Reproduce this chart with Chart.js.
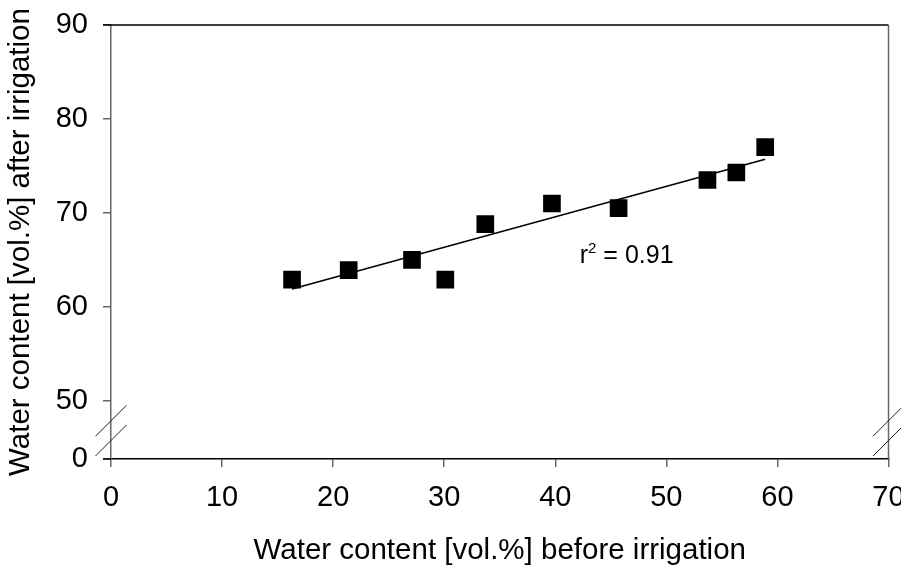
<!DOCTYPE html>
<html lang="en">
<head>
    <meta charset="UTF-8">
    <title>Water content before / after irrigation</title>
    <script src="https://cdn.jsdelivr.net/npm/chart.js"></script>
    <style>
        html, body { margin: 0; padding: 0; background: #fff; }
    </style>
</head>
<body>
    <canvas id="waterChart" width="901" height="566"></canvas>
    <script>
        // measured points (vol.%)
        const beforeIrrigation = [16.3, 21.4, 27.1, 30.1, 33.7, 39.7, 45.7, 53.7, 56.3, 58.9];
        const afterIrrigation  = [62.9, 63.9, 65.0, 62.9, 68.8, 71.0, 70.5, 73.5, 74.3, 77.0];

        // regression line end points as drawn
        const fitX = [16.3, 58.9];
        const fitY = [61.9, 75.7];

        const xTicks = [0, 10, 20, 30, 40, 50, 60, 70];
        // y axis is broken between 0 and 50; 0 is drawn at 43.8 on the internal scale
        const BREAK_ZERO = 43.8;
        const yTickPos    = [BREAK_ZERO, 50, 60, 70, 80, 90];
        const yTickLabels = ['0', '50', '60', '70', '80', '90'];

        const rSquared = '0.91';
        const rLabelAt = { x: 42.2, y: 64.7 };

        const FONT = "'Liberation Sans', Arial, sans-serif";

        const frame = {
            id: 'frame',
            afterDraw(chart) {
                const { ctx, chartArea: a, scales: { x, y } } = chart;
                ctx.save();
                // top and right box lines, bottom line extended past the y axis
                ctx.lineWidth = 1.5;
                ctx.strokeStyle = '#000';
                ctx.beginPath();
                ctx.moveTo(a.left - 8, a.top);
                ctx.lineTo(a.right, a.top);
                ctx.moveTo(a.left - 8, a.bottom);
                ctx.lineTo(a.left, a.bottom);
                ctx.stroke();
                ctx.strokeStyle = '#666';
                ctx.beginPath();
                ctx.moveTo(a.right, a.top);
                ctx.lineTo(a.right, a.bottom);
                ctx.stroke();

                // axis break marks on both vertical axes
                ctx.lineWidth = 1;
                ctx.strokeStyle = '#222';
                const y1 = y.getPixelForValue(50) + 20;
                const y2 = y.getPixelForValue(BREAK_ZERO) - 18.5;
                [a.left, a.right].forEach(cx => {
                    [y1, y2].forEach(cy => {
                        ctx.beginPath();
                        ctx.moveTo(cx - 15.5, cy + 15.5);
                        ctx.lineTo(cx + 15.5, cy - 15.5);
                        ctx.stroke();
                    });
                });

                // r^2 annotation
                const px = x.getPixelForValue(rLabelAt.x);
                const py = y.getPixelForValue(rLabelAt.y);
                ctx.fillStyle = '#000';
                ctx.textBaseline = 'alphabetic';
                ctx.textAlign = 'left';
                ctx.font = '25px ' + FONT;
                ctx.fillText('r', px, py);
                const rw = ctx.measureText('r').width;
                ctx.font = '15px ' + FONT;
                ctx.fillText('2', px + rw, py - 10);
                const sw = ctx.measureText('2').width;
                ctx.font = '25px ' + FONT;
                ctx.fillText(' = ' + rSquared, px + rw + sw, py);
                ctx.restore();
            }
        };

        const ctx = document.getElementById('waterChart').getContext('2d');
        const waterChart = new Chart(ctx, {
            type: 'scatter',
            data: {
                datasets: [
                    {
                        type: 'line',
                        label: 'fit',
                        data: fitX.map((v, i) => ({ x: v, y: fitY[i] })),
                        borderColor: '#000',
                        borderWidth: 1.5,
                        pointRadius: 0,
                        fill: false,
                        order: 2
                    },
                    {
                        label: 'measured',
                        data: beforeIrrigation.map((v, i) => ({ x: v, y: afterIrrigation[i] })),
                        pointStyle: 'rect',
                        pointRadius: 12.5,
                        backgroundColor: '#000',
                        borderWidth: 0,
                        order: 1
                    }
                ]
            },
            options: {
                responsive: false,
                animation: false,
                devicePixelRatio: 1,
                layout: { padding: { top: 25, right: 12, left: 0, bottom: 0 } },
                plugins: { legend: { display: false }, tooltip: { enabled: false } },
                scales: {
                    x: {
                        type: 'linear',
                        min: 0,
                        max: 70,
                        afterBuildTicks: s => { s.ticks = xTicks.map(v => ({ value: v })); },
                        afterFit: s => { s.height = 107; s.paddingLeft = 0; s.paddingRight = 0; },
                        ticks: { color: '#000', font: { family: FONT, size: 29 }, padding: 14, maxRotation: 0 },
                        grid: { drawOnChartArea: false, tickLength: 8, color: '#666', lineWidth: 1.5 },
                        border: { color: '#000', width: 1.5 },
                        title: {
                            display: true,
                            text: 'Water content [vol.%] before irrigation',
                            color: '#000',
                            font: { family: FONT, size: 29.5, lineHeight: 1.0 },
                            padding: { top: 0, bottom: 0 }
                        }
                    },
                    y: {
                        type: 'linear',
                        min: BREAK_ZERO,
                        max: 90,
                        afterBuildTicks: s => { s.ticks = yTickPos.map(v => ({ value: v })); },
                        afterFit: s => { s.width = 111; s.paddingTop = 0; s.paddingBottom = 0; },
                        ticks: {
                            color: '#000',
                            font: { family: FONT, size: 29 },
                            padding: 15,
                            callback: v => yTickLabels[yTickPos.indexOf(v)]
                        },
                        grid: { drawOnChartArea: false, tickLength: 8, color: '#666', lineWidth: 1.5 },
                        border: { color: '#666', width: 1.5 },
                        title: {
                            display: true,
                            text: 'Water content [vol.%] after irrigation',
                            color: '#000',
                            font: { family: FONT, size: 29.5 },
                            padding: { top: 3, bottom: 0 }
                        }
                    }
                }
            },
            plugins: [frame]
        });
    </script>
</body>
</html>
